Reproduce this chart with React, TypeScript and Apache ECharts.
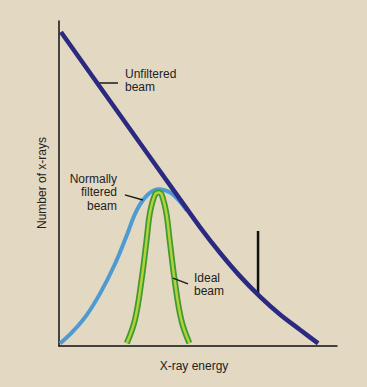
import React, { useEffect, useRef } from "react";
import * as echarts from "echarts";

// Unfiltered beam (dark navy)
const unfilteredX = [0.7, 22.0, 43.5, 50.7, 57.9, 65.1, 72.3, 79.5, 86.7, 93.2];
const unfilteredY = [96.6, 71.0, 45.2, 36.6, 28.7, 21.5, 15.2, 9.7, 5.0, 0.8];

// Normally filtered beam (light blue)
const filteredX = [0.4, 5, 10, 15, 20, 24, 28, 32, 36, 40, 43, 46];
const filteredY = [0.8, 4.5, 9.6, 16.5, 25.0, 33.2, 41.8, 46.6, 48.2, 47.2, 44.9, 41.7];

// Ideal beam (green)
const idealX = [24.4, 27.3, 29.7, 31.5, 32.7, 34.5, 35.8, 36.9, 38.6, 39.8, 41.6, 44.0, 46.9];
const idealY = [0.9, 8.0, 20.3, 32.6, 40.9, 46.5, 47.2, 46.6, 40.9, 32.6, 20.3, 8.0, 0.9];

// Vertical marker line
const markerX = [71.6, 71.6];
const markerY = [15.6, 35.4];

// Leader lines
const leaderUnfilteredX = [13.7, 21.2];
const leaderUnfilteredY = [80.9, 80.9];
const leaderFilteredX = [23.7, 30.2];
const leaderFilteredY = [46.5, 44.9];
const leaderIdealX = [41.0, 46.4];
const leaderIdealY = [20.9, 19.1];

const zip = (xs: number[], ys: number[]) => xs.map((x, i) => [x, ys[i]]);

const FONT = "'Liberation Sans', Arial, sans-serif";
const TXT = "#222222";

export default function App() {
  const ref = useRef<HTMLDivElement>(null);
  useEffect(() => {
    if (!ref.current) return;
    const chart = echarts.init(ref.current, undefined, { renderer: "svg" });
    const leader = (xs: number[], ys: number[]) => ({
      type: "line",
      data: zip(xs, ys),
      symbol: "none",
      lineStyle: { color: "#1a1a1a", width: 1.5 },
      z: 5,
    });
    chart.setOption({
      animation: false,
      backgroundColor: "#E3D9C2",
      grid: { left: 59, top: 21, width: 278, height: 325 },
      xAxis: {
        type: "value",
        min: 0,
        max: 100,
        axisLine: { show: true, onZero: false, lineStyle: { color: "#111", width: 1.5 } },
        axisTick: { show: false },
        axisLabel: { show: false },
        splitLine: { show: false },
      },
      yAxis: {
        type: "value",
        min: 0,
        max: 100,
        axisLine: { show: true, onZero: false, lineStyle: { color: "#111", width: 1.5 } },
        axisTick: { show: false },
        axisLabel: { show: false },
        splitLine: { show: false },
      },
      series: [
        {
          type: "line",
          data: zip(filteredX, filteredY),
          smooth: 0.4,
          symbol: "none",
          lineStyle: { color: "#4E9BD3", width: 4 },
          z: 2,
        },
        {
          type: "line",
          data: zip(idealX, idealY),
          smooth: 0.4,
          symbol: "none",
          lineStyle: { color: "#3E9A32", width: 6 },
          z: 3,
        },
        {
          type: "line",
          data: zip(idealX, idealY),
          smooth: 0.4,
          symbol: "none",
          lineStyle: { color: "#B3D23A", width: 2.5 },
          z: 4,
        },
        {
          type: "line",
          data: zip(unfilteredX, unfilteredY),
          smooth: 0.35,
          symbol: "none",
          lineStyle: { color: "#2B2A80", width: 4.5 },
          z: 6,
        },
        {
          type: "line",
          data: zip(markerX, markerY),
          symbol: "none",
          lineStyle: { color: "#111", width: 2.5 },
          z: 5,
        },
        leader(leaderUnfilteredX, leaderUnfilteredY),
        leader(leaderFilteredX, leaderFilteredY),
        leader(leaderIdealX, leaderIdealY),
      ],
      graphic: [
        {
          type: "text",
          left: 125,
          top: 67,
          style: { text: "Unfiltered\nbeam", font: `12px ${FONT}`, fill: TXT, lineHeight: 13.5 },
        },
        {
          type: "text",
          x: 117,
          y: 172,
          style: {
            text: "Normally\nfiltered\nbeam",
            font: `12px ${FONT}`,
            fill: TXT,
            align: "right",
            verticalAlign: "top",
            lineHeight: 13.5,
          },
        },
        {
          type: "text",
          left: 194,
          top: 271,
          style: { text: "Ideal\nbeam", font: `12px ${FONT}`, fill: TXT, lineHeight: 13.5 },
        },
        {
          type: "text",
          x: 194,
          y: 366,
          style: {
            text: "X-ray energy",
            font: `12px ${FONT}`,
            fill: TXT,
            align: "center",
            verticalAlign: "middle",
          },
        },
        {
          type: "text",
          x: 42,
          y: 183,
          rotation: Math.PI / 2,
          style: {
            text: "Number of x-rays",
            font: `12px ${FONT}`,
            fill: TXT,
            align: "center",
            verticalAlign: "middle",
          },
        },
      ],
    });
    return () => chart.dispose();
  }, []);
  return (
    <div
      ref={ref}
      style={{ position: "fixed", left: 0, top: 0, width: 367, height: 387 }}
    />
  );
}
